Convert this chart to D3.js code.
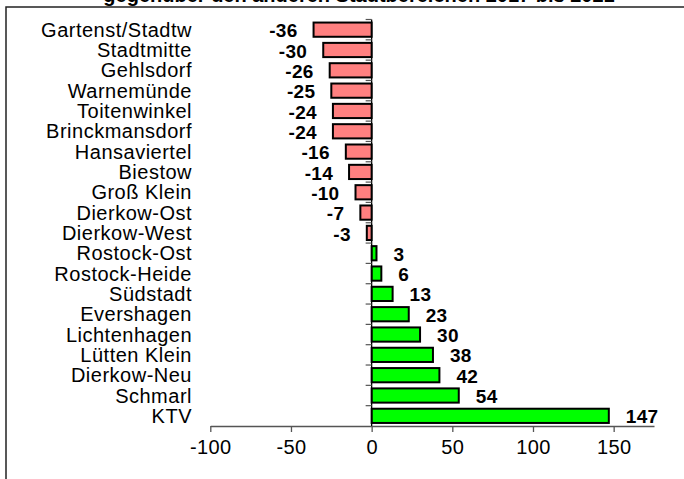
<!DOCTYPE html>
<html>
<head>
<meta charset="utf-8">
<script src="https://cdn.jsdelivr.net/npm/d3@7"></script>
<style>
  body { margin: 0; background: #fff; }
  svg { display: block; font-family: "Liberation Sans", Arial, sans-serif; }
</style>
</head>
<body>
<script>

// Stadtbereiche und Saldo 2017 bis 2021
const categories = ["Gartenst/Stadtw", "Stadtmitte", "Gehlsdorf", "Warnemünde", "Toitenwinkel",
    "Brinckmansdorf", "Hansaviertel", "Biestow", "Groß Klein", "Dierkow-Ost", "Dierkow-West",
    "Rostock-Ost", "Rostock-Heide", "Südstadt", "Evershagen", "Lichtenhagen", "Lütten Klein",
    "Dierkow-Neu", "Schmarl", "KTV"];
const values = [-36, -30, -26, -25, -24, -24, -16, -14, -10, -7, -3, 3, 6, 13, 23, 30, 38, 42, 54, 147];
const xTicks = [-100, -50, 0, 50, 100, 150];
const title = "gegenüber den anderen Stadtbereichen 2017 bis 2021";

const data = categories.map((c, i) => ({name: c, value: values[i]}));

const svg = d3.select("body").append("svg")
    .attr("width", 684)
    .attr("height", 479);

// Rahmen (rechts und unten abgeschnitten)
svg.append("rect")
    .attr("x", 6).attr("y", 7)
    .attr("width", 720).attr("height", 520)
    .attr("fill", "none")
    .attr("stroke", "#222")
    .attr("stroke-width", 1.5);

// Titel, oben abgeschnitten wie im Original
svg.append("text")
    .attr("x", 359)
    .attr("y", 1.5)
    .attr("text-anchor", "middle")
    .style("font-size", "20px")
    .style("font-weight", "bold")
    .text(title);

const x = d3.scaleLinear()
    .domain([-100, 175])
    .range([210.3, 654]);

const y = d3.scaleBand()
    .domain(categories)
    .range([19.5, 426])
    .paddingInner(0.3)
    .paddingOuter(0.15);

// x-Achse (normales Minus statt U+2212)
const xAxis = svg.append("g")
    .attr("transform", "translate(0,426)")
    .call(d3.axisBottom(x)
        .tickValues(xTicks)
        .tickFormat(d => String(d))
        .tickSize(6).tickSizeOuter(0).tickPadding(8));
xAxis.select(".domain").attr("stroke", "#555").attr("stroke-width", 1.3);
xAxis.selectAll(".tick line").attr("stroke", "#555").attr("stroke-width", 1.3);
xAxis.selectAll("text")
    .style("font-size", "20px")
    .style("letter-spacing", "0.4px")
    .attr("fill", "#000");

// Balken
svg.selectAll("rect.bar")
    .data(data)
    .enter()
    .append("rect")
        .attr("class", "bar")
        .attr("x", d => x(Math.min(0, d.value)))
        .attr("y", d => y(d.name))
        .attr("width", d => Math.abs(x(d.value) - x(0)))
        .attr("height", y.bandwidth())
        .attr("fill", d => d.value < 0 ? "#ff8080" : "#00ff00")
        .attr("stroke", "#000")
        .attr("stroke-width", 2);

// y-Achse bei 0, Striche zwischen den Kategorien
svg.append("line")
    .attr("x1", x(0)).attr("x2", x(0))
    .attr("y1", y.range()[0]).attr("y2", y.range()[1])
    .attr("stroke", "#000")
    .attr("stroke-width", 1.3);

const bounds = d3.range(categories.length).map(i => y.range()[0] + i * (y.range()[1] - y.range()[0]) / categories.length);
svg.selectAll("line.ytick")
    .data(bounds)
    .enter()
    .append("line")
        .attr("class", "ytick")
        .attr("x1", x(0) - 6).attr("x2", x(0))
        .attr("y1", d => d).attr("y2", d => d)
        .attr("stroke", "#555")
        .attr("stroke-width", 1.2);

// Kategorienamen
svg.selectAll("text.cat")
    .data(data)
    .enter()
    .append("text")
        .attr("class", "cat")
        .attr("x", 192)
        .attr("y", d => y(d.name) + y.bandwidth() / 2)
        .attr("dy", "0.35em")
        .attr("text-anchor", "end")
        .style("font-size", "20px")
        .style("letter-spacing", "0.5px")
        .text(d => d.name);

// Werte
svg.selectAll("text.val")
    .data(data)
    .enter()
    .append("text")
        .attr("class", "val")
        .attr("x", d => d.value < 0 ? x(d.value) - 16 : x(d.value) + 17)
        .attr("y", d => y(d.name) + y.bandwidth() / 2)
        .attr("dy", "0.4em")
        .attr("text-anchor", d => d.value < 0 ? "end" : "start")
        .style("font-size", "19px")
        .style("letter-spacing", "0.3px")
        .style("font-weight", "bold")
        .text(d => d.value);

</script>
</body>
</html>
